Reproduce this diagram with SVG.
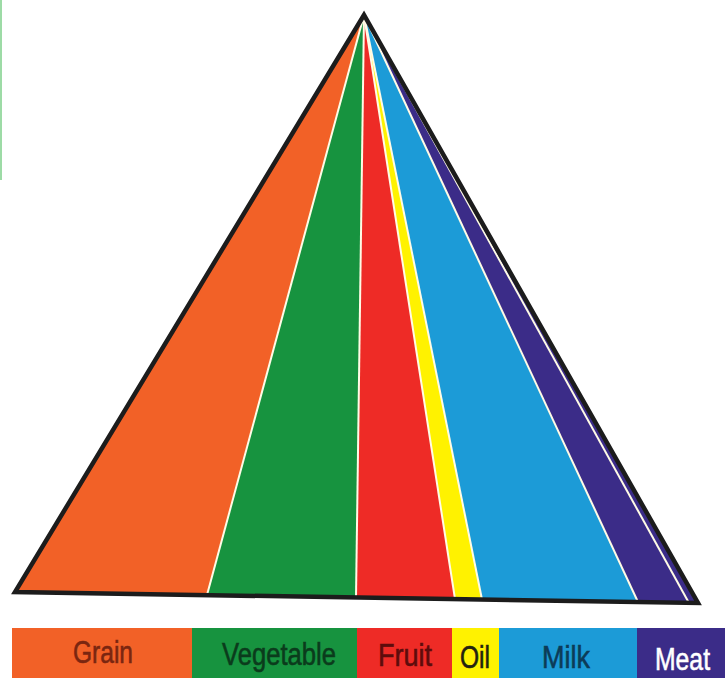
<svg xmlns="http://www.w3.org/2000/svg" width="725" height="681" viewBox="0 0 725 681">
<style>
.grain{fill:#f26127}.veg{fill:#17933f}.fruit{fill:#ee2b26}.oil{fill:#fff200}.milk{fill:#1c9bd7}.meat{fill:#3b2c88}
.sep{stroke:#fffbe6;stroke-width:2;fill:none}
.lbl{font-family:"Liberation Sans",Arial,sans-serif;font-size:32px;stroke-width:0.6}
</style>
<rect width="725" height="681" fill="#ffffff"/>
<line x1="1" y1="0" x2="1" y2="180" stroke="#5cc46c" stroke-width="1.5" opacity="0.8"/>
<g id="pyramid">
  <polygon class="grain" points="364,15 15,592 207,595"/>
  <polygon class="veg" points="364,15 207,595 356,597.5"/>
  <polygon class="fruit" points="364,15 356,597.5 455,599"/>
  <polygon class="oil" points="364,15 455,599 482,599.5"/>
  <polygon class="milk" points="364,15 482,599.5 638,602"/>
  <polygon class="meat" points="364,15 638,602 698,603"/>
</g>
<g id="connectors">
  <line class="sep" x1="364" y1="15" x2="207" y2="595"/>
  <line class="sep" x1="364" y1="15" x2="356" y2="597.5"/>
  <line class="sep" x1="364" y1="15" x2="455" y2="599"/>
  <line class="sep" x1="364" y1="15" x2="482" y2="599.5"/>
  <line class="sep" x1="364" y1="15" x2="638" y2="602"/>
  <line class="sep" x1="364" y1="15" x2="689" y2="603"/>
</g>
<polygon id="border" points="364,15 15,592 698,603" fill="none" stroke="#1c1c1c" stroke-width="4.5" stroke-linejoin="miter"/>
<g id="legend">
  <g id="legend-grain"><rect class="grain" x="12" y="628" width="181" height="50"/>
    <text class="lbl" x="73" y="663" textLength="60" lengthAdjust="spacingAndGlyphs" fill="#7a2610" stroke="#7a2610">Grain</text></g>
  <g id="legend-vegetable"><rect class="veg" x="192" y="628" width="166" height="50"/>
    <text class="lbl" x="222" y="665" textLength="114" lengthAdjust="spacingAndGlyphs" fill="#0b3b1c" stroke="#0b3b1c">Vegetable</text></g>
  <g id="legend-fruit"><rect class="fruit" x="357" y="628" width="96" height="50"/>
    <text class="lbl" x="378" y="666" textLength="54" lengthAdjust="spacingAndGlyphs" fill="#5e0c0c" stroke="#5e0c0c">Fruit</text></g>
  <g id="legend-oil"><rect class="oil" x="452" y="628" width="48" height="50"/>
    <text class="lbl" x="460" y="668" textLength="30" lengthAdjust="spacingAndGlyphs" fill="#232310" stroke="#232310">Oil</text></g>
  <g id="legend-milk"><rect class="milk" x="499" y="628" width="139" height="50"/>
    <text class="lbl" x="542" y="668" textLength="48" lengthAdjust="spacingAndGlyphs" fill="#0c3b58" stroke="#0c3b58">Milk</text></g>
  <g id="legend-meat"><rect class="meat" x="637" y="628" width="88" height="50"/>
    <text class="lbl" x="655" y="670" textLength="55" lengthAdjust="spacingAndGlyphs" fill="#ffffff" stroke="#ffffff">Meat</text></g>
</g>
</svg>
